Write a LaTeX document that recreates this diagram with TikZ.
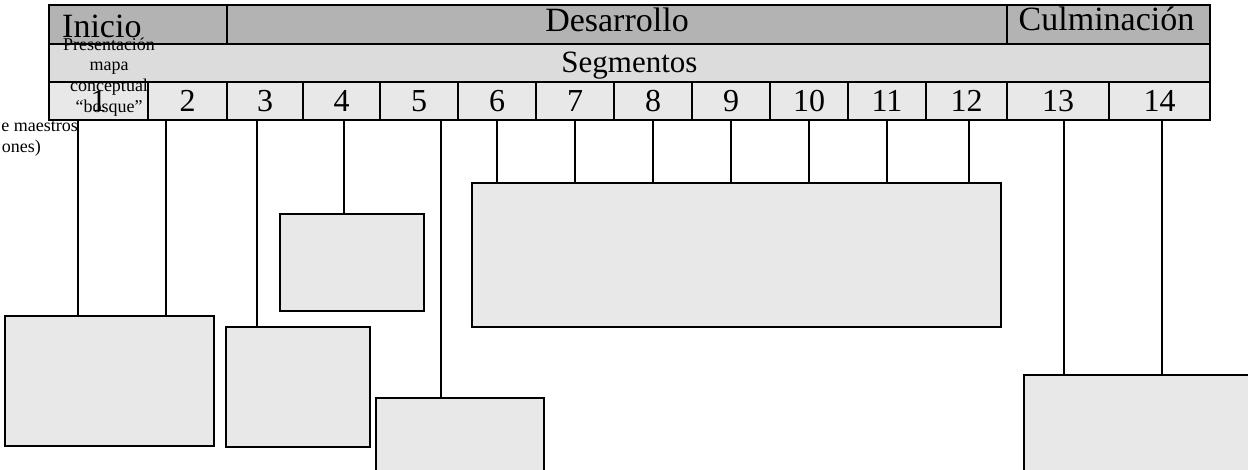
\documentclass[tikz,border=0pt]{standalone}
\usepackage[rgb]{xcolor}
\usepackage{fontspec}
\setmainfont{Liberation Serif}
\usepackage{tikz}

\definecolor{headgray}{HTML}{B3B3B3}
\definecolor{seggray}{HTML}{DCDCDC}
\definecolor{boxgray}{HTML}{E8E8E8}

\tikzset{
  cell/.style={draw=black, line width=1.5pt, inner sep=0pt, outer sep=0pt, anchor=north west},
  box/.style={draw=black, fill=boxgray, line width=1.3pt, inner sep=0pt, outer sep=0pt, anchor=north west},
  big/.style={font=\fontsize{31}{37}\selectfont, inner sep=0pt},
  head/.style={font=\fontsize{34}{40}\selectfont, inner sep=0pt},
  small/.style={font=\fontsize{18}{20.7}\selectfont, inner sep=0pt},
  link/.style={draw=black, line width=1.2pt}
}

\begin{document}
\begin{tikzpicture}[x=1pt, y=-1pt]

\useasboundingbox (0,0) rectangle (1248,470);
\clip (0,0) rectangle (1248,470);


% Boxes below the segments
\node[box, minimum width=209pt, minimum height=130pt] (b12) at (5,316) {};
\node[box, minimum width=144pt, minimum height=120pt] (b3) at (226,327) {};
\node[box, minimum width=144pt, minimum height=97pt] (b4) at (280,214) {};
\node[box, minimum width=168pt, minimum height=100pt] (b5) at (376,398) {};
\node[box, minimum width=529pt, minimum height=144pt] (bmid) at (472,183) {};
\node[box, minimum width=240pt, minimum height=120pt] (bend) at (1024,375) {};



% Stages row
\node[cell, fill=headgray, minimum width=178pt, minimum height=39pt] (rini) at (49,5) {};
\node[cell, fill=headgray, minimum width=780pt, minimum height=39pt] (rdes) at (227,5) {};
\node[cell, fill=headgray, minimum width=203pt, minimum height=39pt] (rcul) at (1007,5) {};

\node[head, anchor=base west] (tini) at ([xshift=13pt, yshift=6pt]rini.south west) {Inicio};
\node[head, anchor=base] (tdes) at ([yshift=12pt]rdes.south) {Desarrollo};
\node[head, anchor=base] (tcul) at ([xshift=-2pt, yshift=13pt]rcul.south) {Culminación};


% Segmentos row
\node[cell, fill=seggray, minimum width=1161pt, minimum height=38pt] (rseg) at (49,44) {};
\node[big, anchor=base] (tseg) at ([yshift=9pt]rseg.south) {Segmentos};


% Numbered segments
\foreach \n/\lft/\rgt in {1/49/148, 2/148/227, 3/227/303, 4/303/380, 5/380/458,
  6/458/536, 7/536/614, 8/614/692, 9/692/770, 10/770/848, 11/848/926,
  12/926/1007, 13/1007/1109, 14/1109/1210}
  \node[cell, fill=boxgray, big, font=\fontsize{32}{38}\selectfont,
        minimum width={(\rgt-\lft)*1pt}, minimum height=38pt] (s\n) at (\lft,82) {\n};



% Links segment -> box
\foreach \n/\dx/\tgt in {1/-20.5/b12, 2/-21.5/b12, 3/-8/b3, 4/2.5/b4, 5/22/b5,
  12/2.5/bmid, 13/6/bend, 14/2.5/bend}
{
  \coordinate (c\n) at ([xshift=\dx pt]s\n.south);
  \draw[link] (c\n) -- (c\n |- \tgt.north);
}

\foreach \n in {6,...,11}
  \draw[link] (s\n.south) -- (s\n.south |- bmid.north);


% Small texts
\node[small, align=center] (tpres) at (109,77) {Presentación\\mapa\\conceptual\\“bosque”};

\node[small, anchor=base east] (tmae) at (78,132) {e maestros};
\node[small, anchor=base east] (tones) at (41,153) {ones)};

\end{tikzpicture}
\end{document}
